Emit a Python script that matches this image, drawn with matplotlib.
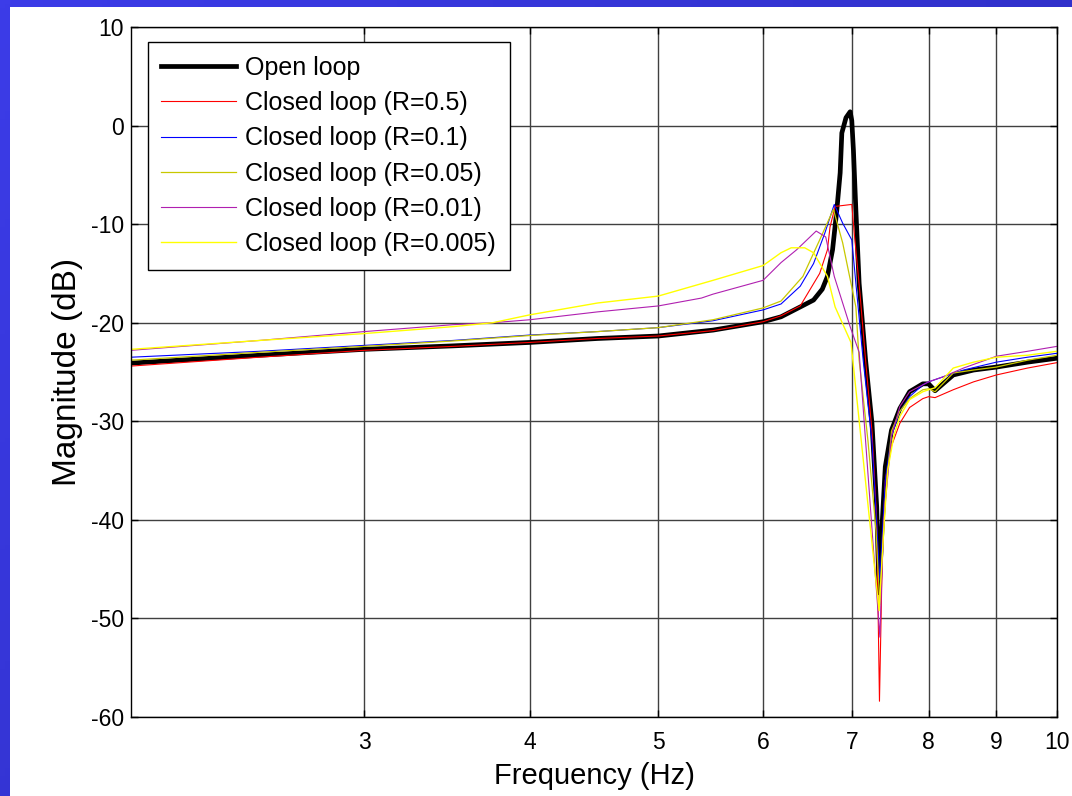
import numpy as np
import matplotlib
matplotlib.use("Agg")
import matplotlib.pyplot as plt
from matplotlib.patches import Rectangle
from matplotlib.ticker import FixedLocator, NullLocator

plt.rcParams['font.family'] = ['Liberation Sans', 'DejaVu Sans']

# --- measured responses (frequency in Hz, magnitude in dB) ---
f_open = [2.0, 2.5, 3.0, 3.5, 4.0, 4.5, 5.0, 5.5, 6.0, 6.19, 6.4, 6.55, 6.65, 6.71,
          6.77, 6.82, 6.86, 6.88, 6.93, 6.98, 7.0, 7.02, 7.05, 7.09, 7.17, 7.25,
          7.31, 7.34, 7.38, 7.42, 7.5, 7.61, 7.74, 7.92, 8.0, 8.09, 8.35, 8.65,
          9.0, 9.5, 10.0]
db_open = [-24.1, -23.3, -22.7, -22.35, -22.0, -21.6, -21.35, -20.75, -19.9, -19.4,
           -18.4, -17.7, -16.6, -15.3, -12.6, -8.6, -4.8, -0.75, 0.8, 1.4, 0.5,
           -2.5, -8.6, -16.0, -23.8, -30.2, -38.7, -47.4, -40.3, -34.6, -30.9,
           -28.7, -27.0, -26.2, -26.2, -26.9, -25.3, -24.8, -24.5, -24.0, -23.6]

f_r05 = [2.0, 2.5, 3.0, 3.5, 4.0, 4.5, 5.0, 5.5, 6.0, 6.19, 6.4, 6.62, 6.71, 6.74,
         6.8, 6.9, 7.0, 7.03, 7.1, 7.17, 7.25, 7.31, 7.345, 7.38, 7.42, 7.5,
         7.61, 7.74, 7.92, 8.0, 8.09, 8.35, 8.65, 9.0, 9.5, 10.0]
db_r05 = [-24.4, -23.5, -22.8, -22.4, -22.0, -21.6, -21.35, -20.8, -19.9, -19.3,
          -18.3, -15.0, -12.6, -10.3, -8.2, -8.1, -8.0, -10.9, -17.0, -23.8,
          -31.0, -40.0, -58.4, -44.0, -36.0, -32.5, -30.2, -28.6, -27.7, -27.5,
          -27.6, -26.8, -26.0, -25.3, -24.6, -24.05]

f_r01 = [2.0, 2.5, 3.0, 3.5, 4.0, 4.5, 5.0, 5.5, 6.0, 6.19, 6.4, 6.55, 6.68, 6.79,
         6.89, 7.0, 7.05, 7.14, 7.25, 7.35, 7.42, 7.5, 7.61, 7.74, 7.92, 8.0,
         8.2, 8.5, 9.0, 9.5, 10.0]
db_r01 = [-23.5, -22.9, -22.3, -21.8, -21.25, -20.9, -20.5, -19.8, -18.7, -18.1,
          -16.3, -14.0, -10.9, -8.0, -9.9, -11.6, -16.0, -23.8, -32.0, -46.1,
          -36.0, -31.5, -29.0, -27.5, -26.3, -26.0, -25.5, -24.8, -24.0, -23.5,
          -23.1]

f_r005 = [2.0, 2.5, 3.0, 3.5, 4.0, 4.5, 5.0, 5.5, 6.0, 6.19, 6.43, 6.62, 6.78,
          6.89, 7.05, 7.09, 7.2, 7.3, 7.35, 7.42, 7.5, 7.61, 7.74, 7.92, 8.0,
          8.09, 8.35, 8.65, 9.0, 9.5, 10.0]
db_r005 = [-23.8, -23.0, -22.4, -21.85, -21.3, -20.9, -20.5, -19.7, -18.5, -17.8,
           -15.3, -11.6, -8.5, -11.9, -18.4, -23.8, -32.0, -41.0, -48.6, -38.0,
           -31.0, -29.0, -27.7, -26.8, -26.7, -27.0, -25.1, -24.8, -24.5, -23.8,
           -23.3]

f_r001 = [2.0, 2.5, 3.0, 3.5, 3.75, 4.0, 4.5, 5.0, 5.39, 5.5, 6.0, 6.19, 6.36,
          6.58, 6.69, 6.79, 6.98, 7.09, 7.35, 7.4, 7.5, 7.61, 7.74, 7.92, 8.0,
          8.2, 8.5, 9.0, 9.5, 10.0]
db_r001 = [-22.8, -21.8, -20.9, -20.2, -20.0, -19.7, -18.9, -18.3, -17.5, -17.1,
           -15.7, -13.9, -12.6, -10.7, -11.3, -15.3, -20.4, -23.0, -51.9, -40.0,
           -31.5, -28.5, -27.0, -26.3, -26.0, -25.5, -24.6, -23.4, -22.9, -22.4]

f_r0005 = [2.0, 2.5, 3.0, 3.5, 3.75, 4.0, 4.5, 5.0, 5.5, 6.0, 6.19, 6.3, 6.45,
           6.55, 6.71, 6.8, 6.99, 7.34, 7.4, 7.45, 7.53, 7.61, 7.74, 7.92, 8.0,
           8.09, 8.35, 8.65, 9.0, 9.5, 10.0]
db_r0005 = [-22.7, -21.8, -21.1, -20.4, -20.0, -19.2, -18.0, -17.3, -15.7, -14.2,
            -12.9, -12.4, -12.4, -12.9, -15.3, -18.4, -22.0, -49.2, -41.0, -35.0,
            -31.5, -29.5, -27.8, -27.0, -26.8, -26.6, -24.6, -24.0, -23.5, -23.3,
            -22.9]

x_ticks = [3, 4, 5, 6, 7, 8, 9, 10]
y_ticks = [-60, -50, -40, -30, -20, -10, 0, 10]

fig = plt.figure(figsize=(10.72, 7.96), dpi=100)

# blue slide frame behind the white plotting area
bg = fig.add_axes([0, 0, 1, 1], zorder=-2)
gx, gy = np.meshgrid(np.linspace(0, 1, 200), np.linspace(0, 1, 200))
grad = 0.6 * gx + 0.4 * gy
bg.imshow(grad, cmap=matplotlib.colors.LinearSegmentedColormap.from_list(
    'slide', ['#3c3ce8', '#2a2ab8']), aspect='auto', extent=[0, 1, 0, 1])
bg.set_axis_off()
fig.patches.append(Rectangle((10 / 1072, 0), 1, 1 - 7 / 796, transform=fig.transFigure,
                             facecolor='white', edgecolor='none', zorder=-1))

ax = fig.add_axes([131 / 1072, 1 - 717 / 796, 926 / 1072, 690 / 796])
ax.plot(f_open, db_open, color='black', lw=3.4, label='Open loop')
ax.plot(f_r05, db_r05, color='red', lw=0.8, label='Closed loop (R=0.5)')
ax.plot(f_r01, db_r01, color='blue', lw=0.8, label='Closed loop (R=0.1)')
ax.plot(f_r005, db_r005, color='#c8c800', lw=0.9, label='Closed loop (R=0.05)')
ax.plot(f_r001, db_r001, color='#b020b0', lw=0.8, label='Closed loop (R=0.01)')
ax.plot(f_r0005, db_r0005, color='#ffff00', lw=1.0, label='Closed loop (R=0.005)')

ax.set_xscale('log')
ax.set_xlim(2, 10)
ax.set_ylim(-60, 10)
ax.xaxis.set_major_locator(FixedLocator(x_ticks))
ax.xaxis.set_minor_locator(NullLocator())
ax.set_xticklabels([str(v) for v in x_ticks])
ax.set_yticks(y_ticks)
ax.set_yticklabels([str(v) for v in y_ticks])
ax.tick_params(direction='in', length=5, width=1, top=True, right=True,
               labelsize=16.5, pad=5)
ax.tick_params(axis='x', pad=10)
ax.grid(True, color='#404040', lw=1.0)
for s in ax.spines.values():
    s.set_linewidth(1.0)

ax.set_xlabel('Frequency (Hz)', fontsize=21, labelpad=6)
ax.set_ylabel('Magnitude (dB)', fontsize=24, labelpad=6)

leg = ax.legend(loc='upper left', bbox_to_anchor=(0.018, 0.978), fontsize=18,
                frameon=True, fancybox=False, framealpha=1, edgecolor='black',
                handlelength=3.0, handletextpad=0.35, labelspacing=0.45,
                borderpad=0.55, borderaxespad=0)
leg.get_frame().set_linewidth(1.0)

fig.savefig('out.png', dpi=100)
